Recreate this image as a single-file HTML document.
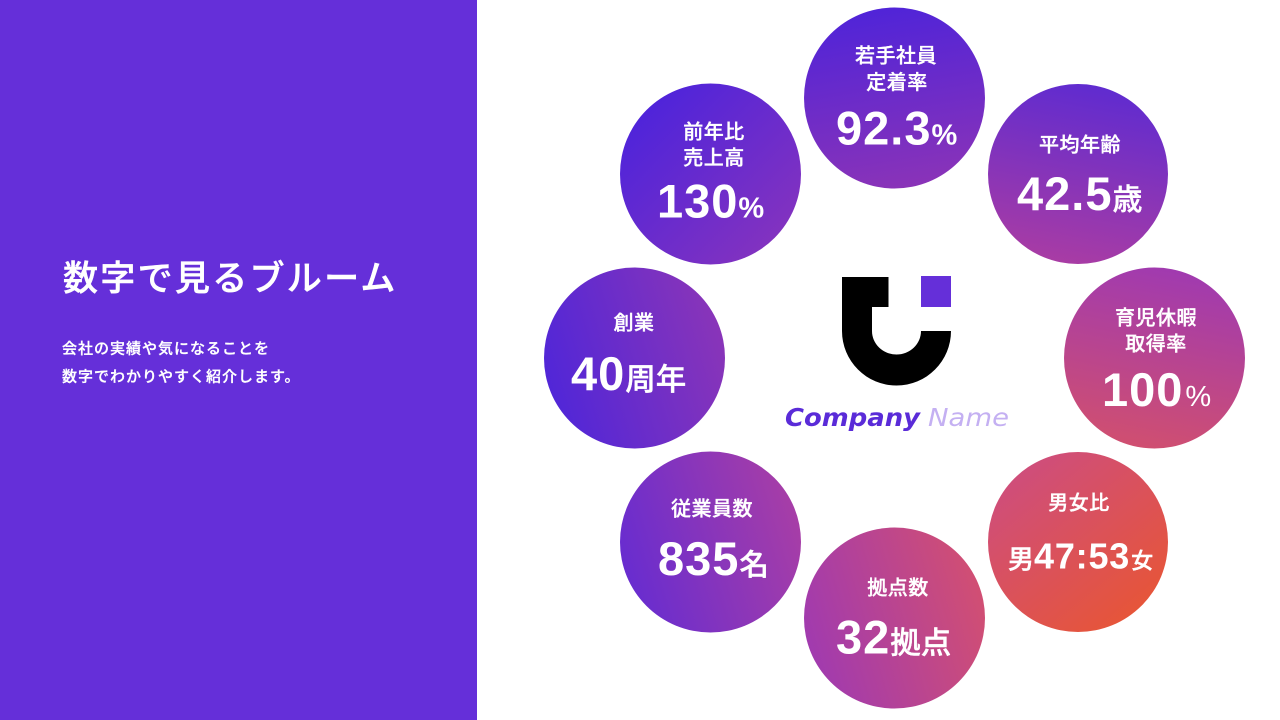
<!DOCTYPE html>
<html lang="ja">
<head>
<meta charset="utf-8">
<title>数字で見るブルーム</title>
<style>
html,body{margin:0;padding:0;width:1280px;height:720px;overflow:hidden;background:#fff}
svg{display:block}
text{font-family:"Liberation Sans","Noto Sans CJK JP",sans-serif;fill:#fff}
.lb{font-family:"Noto Sans CJK JP",sans-serif;font-size:20px;font-weight:500;letter-spacing:.5px;text-anchor:middle;stroke:#fff;stroke-width:.35px}
.num{font-family:"Liberation Sans",sans-serif;font-weight:700;font-size:47px;letter-spacing:1px}
.u{font-family:"Noto Sans CJK JP",sans-serif;font-weight:500;font-size:30.500px;stroke:#fff;stroke-width:.4px}
.p{font-family:"Liberation Sans",sans-serif;font-weight:700;font-size:29px}
.jp{font-family:"Noto Sans CJK JP",sans-serif;font-weight:500;stroke:#fff}
</style>
</head>
<body>
<svg xmlns="http://www.w3.org/2000/svg" width="1280" height="720" viewBox="0 0 1280 720">
<defs>
<linearGradient id="g1" gradientUnits="userSpaceOnUse" x1="880" y1="8" x2="910" y2="188"><stop offset="0" stop-color="#5024d8"/><stop offset="1" stop-color="#8a33b8"/></linearGradient>
<linearGradient id="g2" gradientUnits="userSpaceOnUse" x1="1095" y1="84" x2="1061" y2="264"><stop offset="0" stop-color="#5f2bd0"/><stop offset="1" stop-color="#a93ca4"/></linearGradient>
<linearGradient id="g3" gradientUnits="userSpaceOnUse" x1="1172" y1="268" x2="1137" y2="448"><stop offset="0" stop-color="#a03ab0"/><stop offset="1" stop-color="#d04f70"/></linearGradient>
<linearGradient id="g4" gradientUnits="userSpaceOnUse" x1="1022" y1="472" x2="1134" y2="612"><stop offset="0" stop-color="#cf4e7a"/><stop offset="1" stop-color="#e6553a"/></linearGradient>
<linearGradient id="g5" gradientUnits="userSpaceOnUse" x1="804" y1="645" x2="985" y2="591"><stop offset="0" stop-color="#a03ab0"/><stop offset="1" stop-color="#d24f72"/></linearGradient>
<linearGradient id="g6" gradientUnits="userSpaceOnUse" x1="620" y1="569" x2="801" y2="515"><stop offset="0" stop-color="#672cd0"/><stop offset="1" stop-color="#a83ea6"/></linearGradient>
<linearGradient id="g7" gradientUnits="userSpaceOnUse" x1="544" y1="385" x2="725" y2="331"><stop offset="0" stop-color="#5026d8"/><stop offset="1" stop-color="#8a35b8"/></linearGradient>
<linearGradient id="g8" gradientUnits="userSpaceOnUse" x1="645" y1="110" x2="776" y2="238"><stop offset="0" stop-color="#4f24da"/><stop offset="1" stop-color="#8232c0"/></linearGradient>
</defs>
<rect x="0" y="0" width="477" height="720" fill="#652fd9"/>
<text class="jp" x="63" y="290.500" style="font-size:35px;letter-spacing:2.300px;stroke-width:.5px">数字で見るブルーム</text>
<text class="jp" x="62" y="353.500" style="font-size:15px;letter-spacing:1px;stroke-width:.3px">会社の実績や気になることを</text>
<text class="jp" x="62" y="381.500" style="font-size:15px;letter-spacing:1px;stroke-width:.3px">数字でわかりやすく紹介します。</text>

<g>
<path d="M842 277H888.500V307H872V331A24.500 23.500 0 0 0 921 331V331H951V331A54.500 54.500 0 0 1 842 331Z" fill="#000"/>
<rect x="921" y="276" width="30" height="31" fill="#652fd9"/>
<text x="785" y="426" style="font-family:'DejaVu Sans',sans-serif;font-size:24.500px;font-weight:700;font-style:italic;fill:#5a2bd8" textLength="135" lengthAdjust="spacingAndGlyphs">Company</text>
<text x="928" y="426" style="font-family:'DejaVu Sans',sans-serif;font-size:24.500px;font-style:italic;fill:#c4b0f2" textLength="81" lengthAdjust="spacingAndGlyphs">Name</text>
</g>

<g>
<circle cx="894.500" cy="98" r="90.500" fill="url(#g1)"/>
<text class="lb" x="896" y="62.500">若手社員</text>
<text class="lb" x="897" y="89">定着率</text>
<text x="836" y="144.500"><tspan class="num">92.3</tspan><tspan class="p">%</tspan></text>
</g>
<g>
<circle cx="1078" cy="174" r="90" fill="url(#g2)"/>
<text class="lb" x="1080" y="151.500">平均年齢</text>
<text x="1017" y="210"><tspan class="num">42.5</tspan><tspan class="u" style="font-size:30px">歳</tspan></text>
</g>
<g>
<circle cx="1154.500" cy="358" r="90.500" fill="url(#g3)"/>
<text class="lb" x="1156" y="324.500">育児休暇</text>
<text class="lb" x="1156" y="350.500">取得率</text>
<text x="1102" y="406"><tspan class="num">100</tspan><tspan class="p" dx="2" style="font-weight:400">%</tspan></text>
</g>
<g>
<circle cx="1078" cy="542" r="90" fill="url(#g4)"/>
<text class="lb" x="1079" y="509.500">男女比</text>
<text x="1008" y="568.500"><tspan class="u" style="font-size:26px">男</tspan><tspan class="num" style="font-size:36px;letter-spacing:.8px">47:53</tspan><tspan class="u" dx="1" style="font-size:22px">女</tspan></text>
</g>
<g>
<circle cx="894.500" cy="618" r="90.500" fill="url(#g5)"/>
<text class="lb" x="898" y="594.500">拠点数</text>
<text x="836" y="653.500"><tspan class="num">32</tspan><tspan class="u">拠点</tspan></text>
</g>
<g>
<circle cx="710.500" cy="542" r="90.500" fill="url(#g6)"/>
<text class="lb" x="712" y="515.500">従業員数</text>
<text x="658" y="575"><tspan class="num">835</tspan><tspan class="u" style="font-size:29.500px">名</tspan></text>
</g>
<g>
<circle cx="634.500" cy="358" r="90.500" fill="url(#g7)"/>
<text class="lb" x="634" y="329.500">創業</text>
<text x="571" y="390"><tspan class="num">40</tspan><tspan class="u">周年</tspan></text>
</g>
<g>
<circle cx="710.500" cy="174" r="90.500" fill="url(#g8)"/>
<text class="lb" x="714" y="138.500">前年比</text>
<text class="lb" x="714" y="164.500">売上高</text>
<text x="657" y="217.500"><tspan class="num">130</tspan><tspan class="p">%</tspan></text>
</g>
</svg>
</body>
</html>
